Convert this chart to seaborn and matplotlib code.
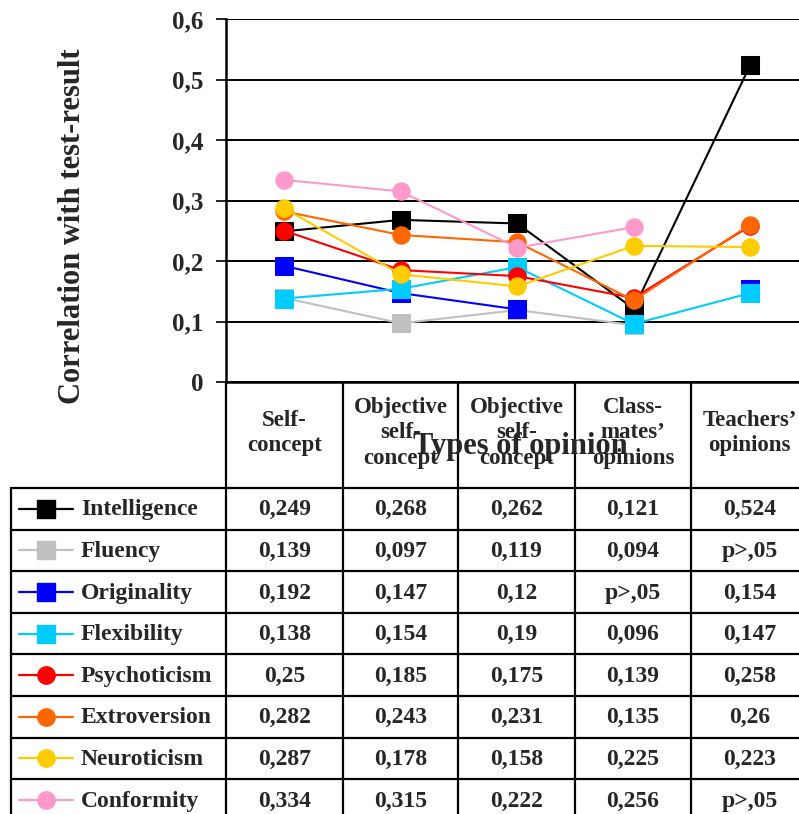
import numpy as np
import pandas as pd
import matplotlib
matplotlib.use('Agg')
import matplotlib.pyplot as plt
import seaborn as sns

# categories (x axis) and series
opinions = ['Self-\nconcept', 'Objective\nself-\nconcept', 'Objective\nself-\nconcept',
            'Class-\nmates\u2019\nopinions', 'Teachers\u2019\nopinions']
series_names = ['Intelligence', 'Fluency', 'Originality', 'Flexibility',
                'Psychoticism', 'Extroversion', 'Neuroticism', 'Conformity']
# nan = not significant (p>,05)
intelligence = [0.249, 0.268, 0.262, 0.121, 0.524]
fluency = [0.139, 0.097, 0.119, 0.094, np.nan]
originality = [0.192, 0.147, 0.12, np.nan, 0.154]
flexibility = [0.138, 0.154, 0.19, 0.096, 0.147]
psychoticism = [0.25, 0.185, 0.175, 0.139, 0.258]
extroversion = [0.282, 0.243, 0.231, 0.135, 0.26]
neuroticism = [0.287, 0.178, 0.158, 0.225, 0.223]
conformity = [0.334, 0.315, 0.222, 0.256, np.nan]
values = [intelligence, fluency, originality, flexibility,
          psychoticism, extroversion, neuroticism, conformity]

colors = ['#000000', '#C0C0C0', '#0000FF', '#00CCFF',
          '#FF0000', '#FF6600', '#FFCC00', '#FF99CC']
markers = ['s', 's', 's', 's', 'o', 'o', 'o', 'o']

sns.set_style('white')
plt.rcParams['font.family'] = ['Liberation Serif', 'DejaVu Serif']
plt.rcParams['font.weight'] = 'bold'

W, H = 799, 814
fig = plt.figure(figsize=(W / 100, H / 100), dpi=100)

# main plot area in pixel terms
left, right, top, bottom = 226, 808.5, 19, 382
ax = fig.add_axes([left / W, 1 - bottom / H, (right - left) / W, (bottom - top) / H])

x = np.arange(len(opinions))
for name, vals, c, m in zip(series_names, values, colors, markers):
    v = np.array(vals, dtype=float)
    seg = np.cumsum(np.isnan(v))
    df = pd.DataFrame({'x': x, 'y': v, 'seg': seg}).dropna()
    sns.lineplot(data=df, x='x', y='y', units='seg', estimator=None, ax=ax,
                 color=c, marker=m, markersize=12.5, markeredgecolor=c,
                 linewidth=1.5, sort=False, legend=False)

ax.set_xlim(-0.5, 4.5)
ax.set_ylim(0, 0.6)
ax.set_yticks(np.arange(0, 0.61, 0.1))
ax.set_yticklabels(['0' if t == 0 else f'{t:.1f}'.replace('.', ',') for t in np.arange(0, 0.61, 0.1)],
                   fontsize=18, fontweight='bold')
ax.set_xticks([])
ax.set_xlabel('')
ax.set_ylabel('')
ax.grid(axis='y', color='black', linewidth=1.4)
ax.tick_params(axis='y', direction='out', length=7, width=1.4, pad=9, left=True)
for s in ['top', 'right']:
    ax.spines[s].set_visible(False)
ax.spines['left'].set_linewidth(1.8)
ax.spines['bottom'].set_linewidth(1.8)
ax.spines['left'].set_color('black')
ax.spines['bottom'].set_color('black')

fig.text(73 / W, 1 - 226 / H, 'Correlation with test-result', rotation=90,
         ha='center', va='center', fontsize=22, fontweight='bold')

# data table below the plot, drawn in pixel coordinates
tab = fig.add_axes([0, 0, 1, 1], zorder=-1)
tab.set_xlim(0, W)
tab.set_ylim(H, 0)
tab.axis('off')

col_edges = [226, 343, 458, 575, 691, 808]
col_centers = [(a + b) / 2 for a, b in zip(col_edges[:-1], col_edges[1:])]
header_bottom = 488
row_h = 41.6
table_left = 11
n_rows = len(series_names)

for xe in col_edges:
    tab.plot([xe, xe], [bottom, header_bottom + row_h * n_rows + 5], color='black', lw=1.6)
tab.plot([table_left, table_left], [header_bottom, header_bottom + row_h * n_rows + 5],
         color='black', lw=1.6)
for i in range(n_rows + 1):
    yy = header_bottom + i * row_h
    tab.plot([table_left, W], [yy, yy], color='black', lw=1.6)

for xc, lab in zip(col_centers, opinions):
    tab.text(xc, (bottom + header_bottom) / 2 - 2, lab, ha='center', va='center',
             fontsize=16.5, fontweight='bold', linespacing=1.3)

for i, (name, vals, c, m) in enumerate(zip(series_names, values, colors, markers)):
    yc = header_bottom + (i + 0.5) * row_h
    tab.plot([19, 73], [yc, yc], color=c, lw=1.6)
    tab.plot([46], [yc], marker=m, color=c, markersize=12.5, markeredgecolor=c)
    tab.text(81, yc + 1, name, ha='left', va='center', fontsize=17, fontweight='bold')
    for xc, v in zip(col_centers, vals):
        txt = 'p>,05' if np.isnan(v) else str(v).replace('.', ',')
        tab.text(xc, yc + 1, txt, ha='center', va='center', fontsize=17, fontweight='bold')

fig.text(520 / W, 1 - 447 / H, 'Types of opinion', ha='center', va='center',
         fontsize=22, fontweight='bold')

fig.savefig('out.png', dpi=100, facecolor='white')
